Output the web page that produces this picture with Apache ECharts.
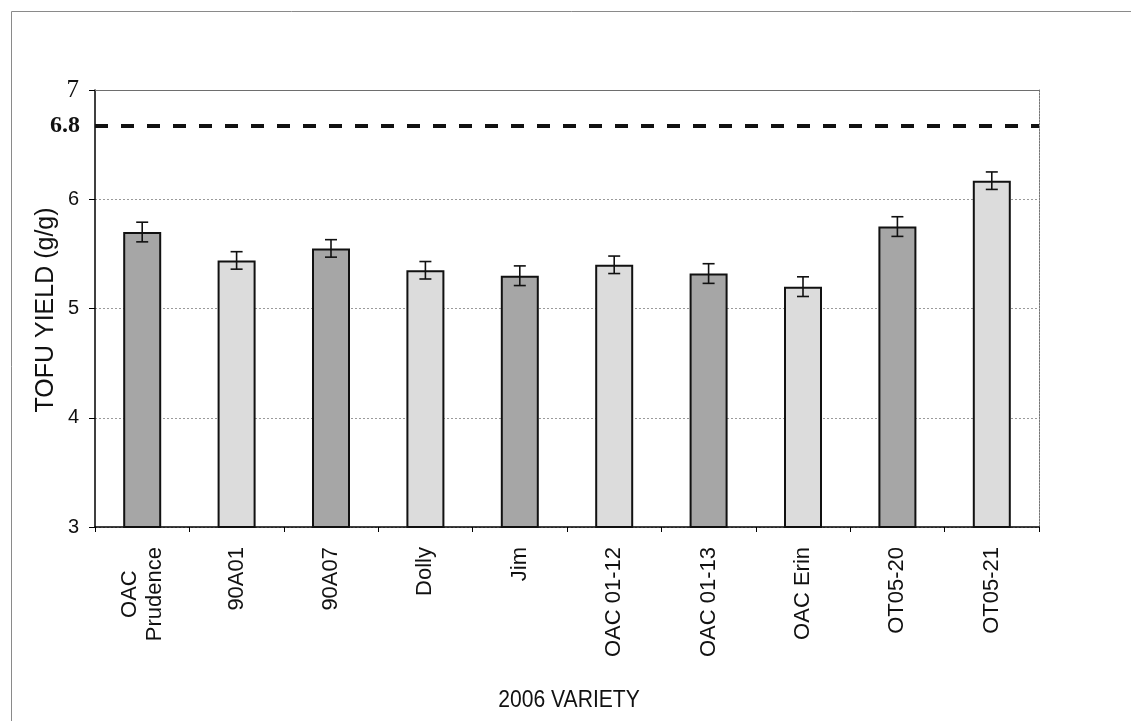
<!DOCTYPE html>
<html>
<head>
<meta charset="utf-8">
<script src="https://cdn.jsdelivr.net/npm/echarts@6/dist/echarts.min.js"></script>
<style>html,body{margin:0;padding:0;background:#fff}#c{width:1131px;height:721px}</style>
</head>
<body>
<div id="c"></div>
<script>
const categories = ['OAC\nPrudence','90A01','90A07','Dolly','Jim','OAC 01-12','OAC 01-13','OAC Erin','OT05-20','OT05-21'];
const yieldValues = [5.70, 5.44, 5.55, 5.35, 5.30, 5.40, 5.32, 5.20, 5.75, 6.17];
const errorValues = [0.09, 0.08, 0.08, 0.08, 0.09, 0.08, 0.09, 0.09, 0.09, 0.08];
const barShade = ['dark','light','dark','light','dark','light','dark','light','dark','light'];
const refLineValue = 6.67;
const refLineLabel = '6.8';
const yTicks = [3, 4, 5, 6, 7];

const shadeColor = {dark: '#a6a6a6', light: '#dcdcdc'};
const sans = '"Liberation Sans", Arial, sans-serif';
const labelSize = 22;
const labelMargin = 20;

const chart = echarts.init(document.getElementById('c'), null, {renderer: 'canvas'});

// multi-line category labels are drawn with their lines centred on each other
const mctx = document.createElement('canvas').getContext('2d');
mctx.font = labelSize + 'px ' + sans;
const multiLine = categories.map((c, i) => ({i: i, c: c})).filter(o => o.c.indexOf('\n') >= 0)
  .map(o => [o.i, Math.max.apply(null, o.c.split('\n').map(s => mctx.measureText(s).width))]);

const option = {
  backgroundColor: '#ffffff',
  animation: false,
  grid: {left: 95, right: 92, top: 90, bottom: 194, containLabel: false},
  graphic: [
    {type: 'line', shape: {x1: 11.5, y1: 11.5, x2: 1131, y2: 11.5}, style: {stroke: '#8a8a8a', lineWidth: 1}},
    {type: 'line', shape: {x1: 11.5, y1: 11.5, x2: 11.5, y2: 721}, style: {stroke: '#8a8a8a', lineWidth: 1}},
    {type: 'text', x: 46, y: 310, rotation: Math.PI / 2,
     style: {text: 'TOFU YIELD (g/g)', font: '25px ' + sans, fill: '#111', align: 'center', verticalAlign: 'middle'}},
    {type: 'text', x: 569, y: 700, scaleX: 0.88,
     style: {text: '2006 VARIETY', font: '24px ' + sans, fill: '#111', align: 'center', verticalAlign: 'middle'}}
  ],
  xAxis: [{
    type: 'category',
    data: categories,
    boundaryGap: true,
    axisLine: {show: true, lineStyle: {color: '#000', width: 1.5}},
    axisTick: {show: true, alignWithLabel: false, length: 5, lineStyle: {color: '#000'}},
    splitLine: {show: false},
    axisLabel: {
      rotate: 90,
      margin: labelMargin,
      interval: 0,
      color: '#111',
      fontFamily: sans,
      fontSize: labelSize,
      lineHeight: 25,
      formatter: function (v) { return v.indexOf('\n') >= 0 ? '' : v; }
    }
  }, {
    type: 'category',
    data: categories,
    position: 'top',
    axisLine: {show: true, lineStyle: {color: '#6e6e6e', width: 1}},
    axisTick: {show: false},
    axisLabel: {show: false},
    splitLine: {show: false}
  }],
  yAxis: [{
    type: 'value',
    min: yTicks[0],
    max: yTicks[yTicks.length - 1],
    interval: 1,
    axisLine: {show: true, lineStyle: {color: '#000', width: 1.5}},
    axisTick: {show: true, length: 6, lineStyle: {color: '#000'}},
    splitLine: {show: true, lineStyle: {color: '#9a9a9a', type: [2, 2], width: 1}},
    axisLabel: {
      margin: 16,
      color: '#111',
      fontFamily: sans,
      fontSize: 20,
      formatter: function (v) { return v === 7 ? '{s|7}' : String(v); },
      rich: {s: {fontFamily: '"Liberation Serif", "Times New Roman", serif', fontSize: 25, color: '#111'}}
    }
  }, {
    type: 'value',
    position: 'right',
    min: yTicks[0],
    max: yTicks[yTicks.length - 1],
    interval: 1,
    axisLine: {show: true, lineStyle: {color: '#777', type: [2, 1], width: 1}},
    axisTick: {show: false},
    axisLabel: {show: false},
    splitLine: {show: false}
  }],
  series: [{
    type: 'bar',
    xAxisIndex: 0,
    yAxisIndex: 0,
    barWidth: 38,
    data: yieldValues.map((v, i) => ({
      value: v,
      itemStyle: {color: shadeColor[barShade[i]], borderColor: '#111', borderWidth: 2}
    })),
    markLine: {
      silent: true,
      symbol: 'none',
      lineStyle: {color: '#111', width: 4, type: [13, 13]},
      label: {
        show: true,
        position: 'start',
        distance: 15,
        formatter: refLineLabel,
        color: '#111',
        fontFamily: '"Liberation Serif", "Times New Roman", serif',
        fontWeight: 'bold',
        fontSize: 24
      },
      data: [{yAxis: refLineValue}]
    },
    z: 2
  }, {
    type: 'custom',
    xAxisIndex: 0,
    yAxisIndex: 0,
    z: 5,
    data: yieldValues.map((v, i) => [i, v, errorValues[i]]),
    renderItem: function (params, api) {
      const i = api.value(0), v = api.value(1), e = api.value(2);
      const top = api.coord([i, v + e]);
      const bot = api.coord([i, v - e]);
      const hw = 6;
      const st = {stroke: '#111', lineWidth: 1.6};
      return {
        type: 'group',
        children: [
          {type: 'line', shape: {x1: top[0], y1: top[1], x2: bot[0], y2: bot[1]}, style: st},
          {type: 'line', shape: {x1: top[0] - hw, y1: top[1], x2: top[0] + hw, y2: top[1]}, style: st},
          {type: 'line', shape: {x1: bot[0] - hw, y1: bot[1], x2: bot[0] + hw, y2: bot[1]}, style: st}
        ]
      };
    }
  }, {
    type: 'custom',
    xAxisIndex: 0,
    yAxisIndex: 0,
    clip: false,
    silent: true,
    z: 6,
    data: multiLine,
    renderItem: function (params, api) {
      const i = api.value(0), w = api.value(1);
      const p = api.coord([i, yTicks[0]]);
      return {
        type: 'text',
        x: p[0],
        y: p[1] + labelMargin + w / 2,
        rotation: Math.PI / 2,
        style: {
          text: categories[i],
          font: labelSize + 'px ' + sans,
          lineHeight: 25,
          fill: '#111',
          align: 'center',
          verticalAlign: 'middle'
        }
      };
    }
  }]
};
chart.setOption(option);
</script>
</body>
</html>
